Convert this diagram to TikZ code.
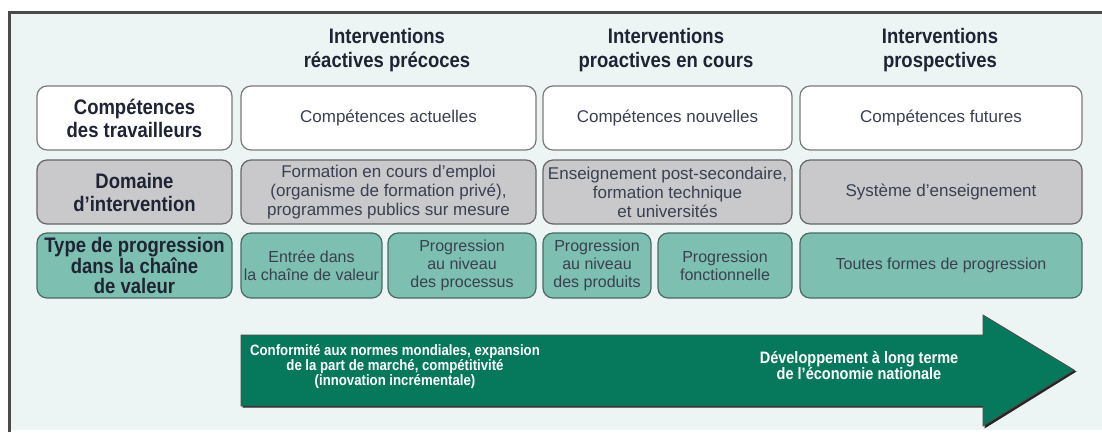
\documentclass[tikz,border=0pt]{standalone}
\usepackage{fontspec}
\setmainfont{Liberation Sans}
\newfontfamily\cond[FakeStretch=0.88]{Liberation Sans}
\definecolor{bgc}{HTML}{EDF5F4}
\definecolor{framec}{HTML}{4A4A4A}
\definecolor{txtc}{HTML}{1E2433}
\definecolor{boxtxt}{HTML}{3A4050}
\definecolor{whiteb}{HTML}{7A7A7A}
\definecolor{grayf}{HTML}{C9C9CC}
\definecolor{grayb}{HTML}{666666}
\definecolor{tealf}{HTML}{7DBFB1}
\definecolor{tealb}{HTML}{4A6A63}
\definecolor{arrowf}{HTML}{06795D}
\begin{document}
\begin{tikzpicture}[x=1pt,y=-1pt,
  hdr/.style={align=center, text=txtc, font=\cond\bfseries\fontsize{21}{24}\selectfont, inner sep=0},
  cell/.style={rounded corners=10pt, line width=1.2pt, minimum height=64pt, inner sep=1pt, align=center},
  wcell/.style={cell, draw=whiteb, fill=white},
  gcell/.style={cell, draw=grayb, fill=grayf},
  tcell/.style={cell, draw=tealb, fill=tealf},
  lbl/.style={text=txtc, font=\cond\bfseries\fontsize{21}{23}\selectfont},
  lbl3/.style={text=txtc, font=\cond\bfseries\fontsize{21}{20}\selectfont},
  ctxt/.style={text=boxtxt, font=\fontsize{17}{19}\selectfont},
  ctxt3/.style={text=boxtxt, font=\fontsize{16}{18}\selectfont},
  atxt/.style={text=white, align=center, font=\cond\bfseries\fontsize{15}{15}\selectfont, inner sep=0},
  atxtb/.style={atxt, font=\cond\bfseries\fontsize{16.5}{16}\selectfont}
]
\useasboundingbox (0,0) rectangle (1102,432);
\fill[bgc] (9,12) rectangle (1102,430);
\draw[framec, line width=3pt] (9,432) -- (9,12) -- (1102,12);

% headers
\node[hdr] (h1) at (387,50) {Interventions\\réactives précoces};
\node[hdr] (h2) at (666,50) {Interventions\\proactives en cours};
\node[hdr] (h3) at (940,50) {Interventions\\prospectives};

% row 1
\node[wcell, lbl, minimum width=195pt] (l1) at (134.5,118) {Compétences\\des travailleurs};
\node[wcell, ctxt, minimum width=295pt] (a1) at (388.5,118) {Compétences actuelles};
\node[wcell, ctxt, minimum width=249pt] (b1) at (667.5,118) {Compétences nouvelles};
\node[wcell, ctxt, minimum width=282pt] (c1) at (941,118) {Compétences futures};

% row 2
\node[gcell, lbl, minimum width=195pt] (l2) at (134.5,192) {Domaine\\d’intervention};
\node[gcell, ctxt, minimum width=295pt] (a2) at (388.5,192) {Formation en cours d’emploi\\(organisme de formation privé),\\programmes publics sur mesure};
\node[gcell, ctxt, minimum width=249pt] (b2) at (667.5,192) {Enseignement post-secondaire,\\formation technique\\et universités};
\node[gcell, ctxt, minimum width=282pt] (c2) at (941,192) {Système d’enseignement};

% row 3
\node[tcell, lbl3, minimum width=195pt, minimum height=65pt] (l3) at (134.5,265.5) {Type de progression\\dans la chaîne\\de valeur};
\node[tcell, ctxt3, minimum width=141pt, minimum height=65pt] (e1) at (311.5,265.5) {Entrée dans\\la chaîne de valeur};
\node[tcell, ctxt3, minimum width=148pt, minimum height=65pt] (e2) at (462,265.5) {Progression\\au niveau\\des processus};
\node[tcell, ctxt3, minimum width=108pt, minimum height=65pt] (e3) at (597,265.5) {Progression\\au niveau\\des produits};
\node[tcell, ctxt3, minimum width=134pt, minimum height=65pt] (e4) at (725,265.5) {Progression\\fonctionnelle};
\node[tcell, ctxt3, minimum width=282pt, minimum height=65pt] (c3) at (941,265.5) {Toutes formes de progression};

% arrow
\fill[black!85] (242.5,336.5) -- (984.5,336.5) -- (984.5,316.5) -- (1076.5,371.5) -- (984.5,428.5) -- (984.5,407.5) -- (242.5,407.5) -- cycle;
\fill[arrowf, draw=black!70, line width=0.8pt] (241,335) -- (983,335) -- (983,315) -- (1074,370) -- (983,426) -- (983,406) -- (241,406) -- cycle;
\node[atxt] (t1) at (395,367) {Conformité aux normes mondiales, expansion\\de la part de marché, compétitivité\\(innovation incrémentale)};
\node[atxtb] (t2) at (859,366) {Développement à long terme\\de l’économie nationale};
\end{tikzpicture}
\end{document}
